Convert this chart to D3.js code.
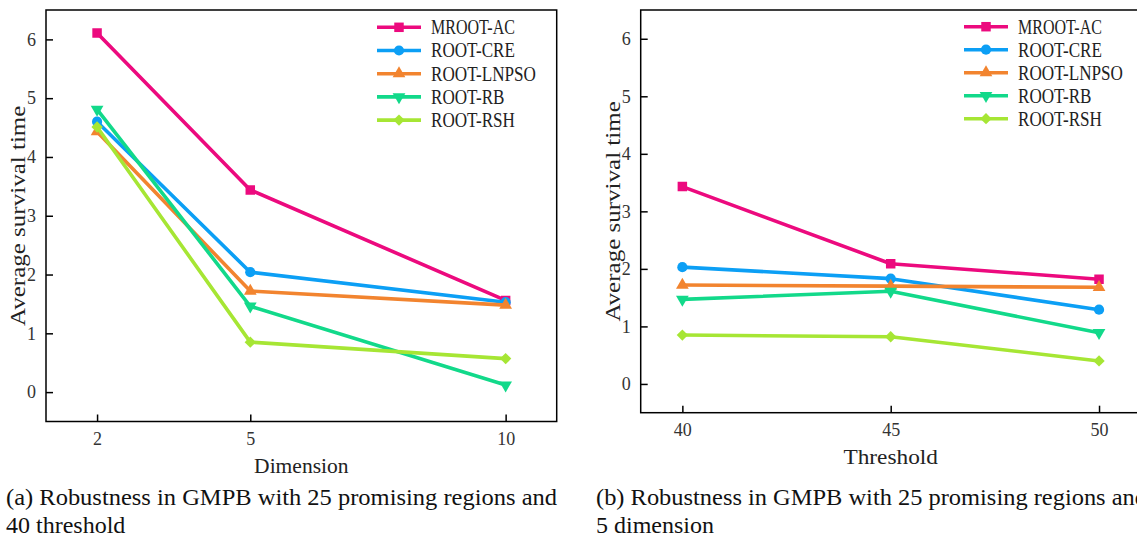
<!DOCTYPE html>
<html>
<head>
<meta charset="utf-8">
<script src="https://cdn.jsdelivr.net/npm/d3@7"></script>
<style>
  body { margin: 0; background: #fff; }
  svg { display: block; }
</style>
</head>
<body>
<div id="chart"></div>
<script>
// series names and colours
const seriesNames = ["MROOT-AC", "ROOT-CRE", "ROOT-LNPSO", "ROOT-RB", "ROOT-RSH"];
const seriesColors = ["#ec0a7e", "#0c9ff5", "#f2842f", "#12d98a", "#a6e634"];

// panel (a): x = dimension
const dimensions = [2, 5, 10];
const dimAC    = [6.11, 3.44, 1.56];
const dimCRE   = [4.60, 2.04, 1.53];
const dimLNPSO = [4.43, 1.72, 1.48];
const dimRB    = [4.81, 1.46, 0.12];
const dimRSH   = [4.51, 0.85, 0.57];

// panel (b): x = threshold
const thresholds = [40, 45, 50];
const thrAC    = [3.43, 2.09, 1.82];
const thrCRE   = [2.03, 1.83, 1.29];
const thrLNPSO = [1.72, 1.70, 1.68];
const thrRB    = [1.47, 1.61, 0.89];
const thrRSH   = [0.85, 0.82, 0.40];

const yTicks = [0, 1, 2, 3, 4, 5, 6];

const width = 1137, height = 539;
const serifFont = "'Liberation Serif', 'DejaVu Serif', serif";
const charW = 10.5; // the label font in the figure is monospaced, ~10.5px per char

const svg = d3.select("#chart").append("svg")
  .attr("width", width)
  .attr("height", height);

// marker shapes
function markerPath(i) {
  if (i === 0) return d3.symbol(d3.symbolSquare, 90)();
  if (i === 1) return d3.symbol(d3.symbolCircle, 82)();
  if (i === 2 || i === 3) return d3.symbol(d3.symbolTriangle, 70)();
  return d3.symbol(d3.symbolSquare, 64)();
}
function markerRot(i) {
  if (i === 3) return " rotate(180)";
  if (i === 4) return " rotate(45)";
  return "";
}

// text in the "monospaced" look: serif glyphs squeezed horizontally to a fixed cell width
function monoText(parent, str, tx, ty, rot) {
  const t = parent.append("text")
    .attr("font-family", serifFont)
    .attr("font-size", "20px")
    .attr("fill", "#222")
    .text(str);
  const sx = (str.length * charW) / t.node().getComputedTextLength();
  t.attr("transform", `translate(${tx},${ty})` + (rot ? ` rotate(${rot})` : "") + ` scale(${sx},1)`);
  return t;
}

function drawPanel(p) {
  const x = d3.scaleLinear().domain(p.xDomain).range([p.left, p.right]);
  const y = d3.scaleLinear().domain([-0.5, 6.5]).range([p.bottom, p.top]);

  const g = svg.append("g");

  const clipId = "clip" + p.id;
  g.append("clipPath").attr("id", clipId)
    .append("rect")
    .attr("x", p.left).attr("y", p.top)
    .attr("width", p.right - p.left).attr("height", p.bottom - p.top);

  // axes, ticks pointing inwards
  const yAxis = g.append("g")
    .attr("transform", `translate(${p.left},0)`)
    .call(d3.axisLeft(y).tickValues(yTicks).tickFormat(d3.format("d"))
      .tickSizeInner(-7).tickSizeOuter(0).tickPadding(10));
  const xAxis = g.append("g")
    .attr("transform", `translate(0,${p.bottom})`)
    .call(d3.axisBottom(x).tickValues(p.xTicks).tickFormat(d3.format("d"))
      .tickSizeInner(-7).tickSizeOuter(0).tickPadding(11));
  [xAxis, yAxis].forEach(a => {
    a.select(".domain").remove();
    a.selectAll("line").attr("stroke", "#000").attr("stroke-width", 1.5);
    a.selectAll("text")
      .attr("font-family", serifFont)
      .style("font-size", "18px")
      .attr("fill", "#333");
  });

  // frame
  g.append("rect")
    .attr("x", p.left).attr("y", p.top)
    .attr("width", p.right - p.left).attr("height", p.bottom - p.top)
    .attr("fill", "none")
    .attr("stroke", "#000")
    .attr("stroke-width", 1.5);

  // lines and markers, one series at a time
  const line = d3.line().x(d => x(d.x)).y(d => y(d.y));
  const plot = g.append("g").attr("clip-path", `url(#${clipId})`);
  p.values.forEach((vals, i) => {
    const pts = vals.map((v, j) => ({ x: p.xTicks[j], y: v }));
    const sg = plot.append("g");
    sg.append("path")
      .datum(pts)
      .attr("d", line)
      .attr("fill", "none")
      .attr("stroke", seriesColors[i])
      .attr("stroke-width", 3.6)
      .attr("stroke-linejoin", "round");
    sg.selectAll("path.mk")
      .data(pts)
      .join("path")
      .attr("class", "mk")
      .attr("d", markerPath(i))
      .attr("transform", d => `translate(${x(d.x)},${y(d.y)})` + markerRot(i))
      .attr("fill", seriesColors[i]);
  });

  // legend
  const lg = g.append("g");
  seriesNames.forEach((name, i) => {
    const ry = p.legendY + i * p.legendStep;
    lg.append("line")
      .attr("x1", p.legendX).attr("x2", p.legendX + 44)
      .attr("y1", ry).attr("y2", ry)
      .attr("stroke", seriesColors[i])
      .attr("stroke-width", 3.6);
    lg.append("path")
      .attr("d", markerPath(i))
      .attr("transform", `translate(${p.legendX + 22},${ry})` + markerRot(i))
      .attr("fill", seriesColors[i]);
    monoText(lg, name, p.legendX + 54, ry + 6.8);
  });

  // axis titles
  monoText(g, p.xTitle, (p.left + p.right) / 2 - p.xTitle.length * charW / 2, p.bottom + 51);
  const yt = "Average survival time";
  monoText(g, yt, p.left - 21, (p.top + p.bottom) / 2 + yt.length * charW / 2, -90);

  // caption
  p.caption.forEach((t, k) => {
    const txt = g.append("text")
      .attr("x", p.capX)
      .attr("y", 505 + k * 28)
      .attr("font-family", serifFont)
      .attr("font-size", "24px")
      .attr("fill", "#111")
      .text(t);
    if (k === 0) txt.attr("textLength", 551).attr("lengthAdjust", "spacingAndGlyphs");
  });
}

drawPanel({
  id: "a",
  left: 46, right: 556.7, top: 10, bottom: 421.5,
  xDomain: [1, 11], xTicks: dimensions,
  values: [dimAC, dimCRE, dimLNPSO, dimRB, dimRSH],
  legendX: 377, legendY: 27.3, legendStep: 23.2,
  xTitle: "Dimension",
  capX: 6,
  caption: ["(a) Robustness in GMPB with 25 promising regions and", "40 threshold"]
});

drawPanel({
  id: "b",
  left: 640.7, right: 1140.7, top: 10, bottom: 412.7,
  xDomain: [39, 51], xTicks: thresholds,
  values: [thrAC, thrCRE, thrLNPSO, thrRB, thrRSH],
  legendX: 964, legendY: 26.7, legendStep: 23,
  xTitle: "Threshold",
  capX: 596,
  caption: ["(b) Robustness in GMPB with 25 promising regions and", "5 dimension"]
});
</script>
</body>
</html>
